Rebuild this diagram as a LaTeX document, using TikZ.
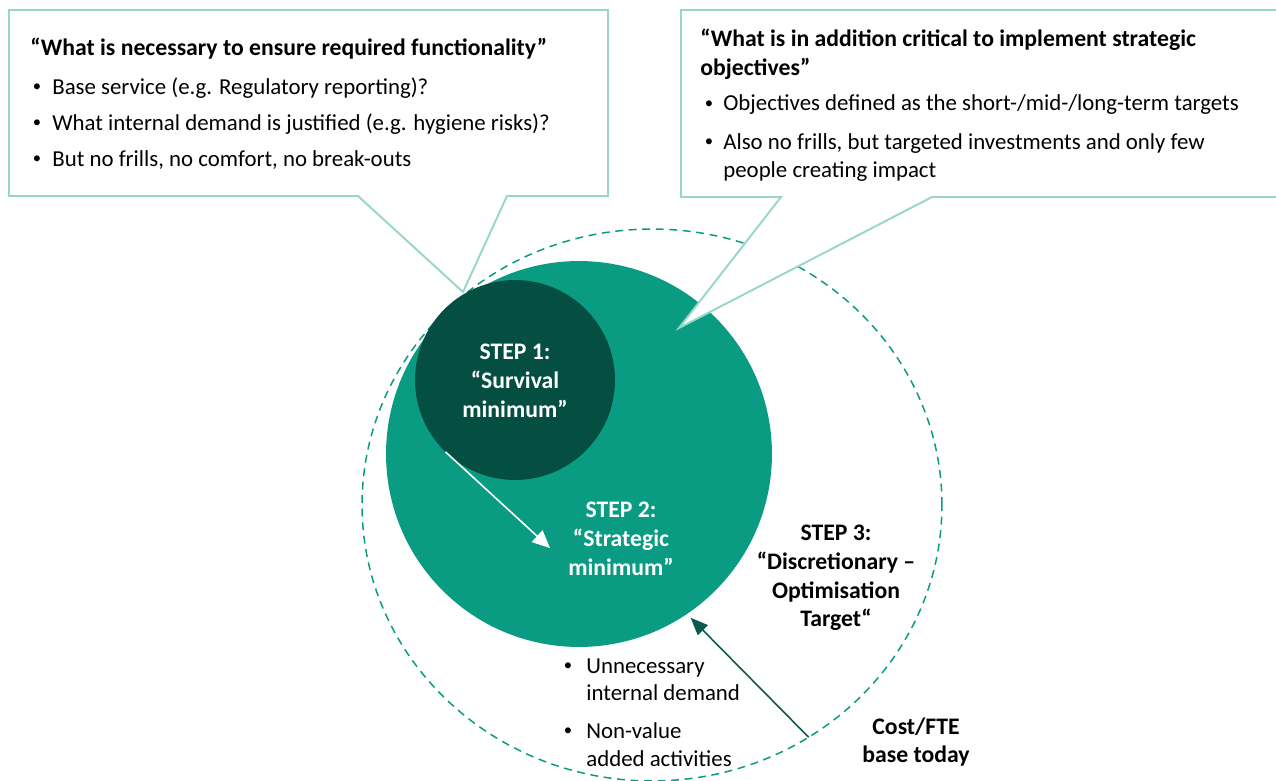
\documentclass[tikz,border=0pt]{standalone}
\usepackage{fontspec}
\setmainfont{Carlito}
\usetikzlibrary{arrows.meta,shapes.geometric}
\definecolor{stepteal}{HTML}{0A9C82}
\definecolor{stepdark}{HTML}{054F42}
\definecolor{boxline}{HTML}{98D6C6}
\definecolor{arrowdark}{HTML}{0B5A4B}
\begin{document}
\begin{tikzpicture}[x=0.02cm,y=-0.02cm,
	callout/.style={draw=boxline,fill=white,line width=1.1pt,line join=miter},
	boxtext/.style={anchor=base west,inner sep=0,font=\fontsize{13}{16}\selectfont},
	boxtitle/.style={boxtext,font=\fontsize{13.5}{16}\selectfont\bfseries},
	steptext/.style={align=center,inner sep=0,font=\fontsize{13.5}{16.4}\selectfont\bfseries},
	bul/.style={anchor=base,inner sep=0,font=\fontsize{9.5}{12}\selectfont}]
	\useasboundingbox (0,0) rectangle (1276,781);
	% circles
	\node[ellipse,draw=stepteal,line width=0.85pt,dash pattern=on 4.5pt off 3.2pt,minimum width=11.6cm,minimum height=11.04cm,inner sep=0,outer sep=0] (s3) at (652,505) {};
	\node[circle,fill=stepteal,minimum size=7.72cm,inner sep=0,outer sep=0] (s2) at (579,454) {};
	\node[circle,fill=stepdark,minimum size=4cm,inner sep=0,outer sep=0] (s1) at (515,380) {};
	% callouts
	\draw[callout] (9,10) -- (608,10) -- (608,196) -- (507,196) -- (463,292) -- (358,196) -- (9,196) -- cycle;
	\draw[callout] (681,10) -- (1285,10) -- (1285,197) -- (932,197) -- (679,328) -- (781,197) -- (681,197) -- cycle;
	% left box text
	\node[boxtitle] (lt) at (30,55) {“What is necessary to ensure required functionality”};
	\node[bul] at (37,93) {\raisebox{0.6pt}{•}};
	\node[boxtext] (l1) at (52,94) {Base service (e.g. Regulatory reporting)?};
	\node[bul] at (37,129) {\raisebox{0.6pt}{•}};
	\node[boxtext] (l2) at (52,130) {What internal demand is justified (e.g. hygiene risks)?};
	\node[bul] at (37,165) {\raisebox{0.6pt}{•}};
	\node[boxtext] (l3) at (52,166) {But no frills, no comfort, no break-outs};
	% right box text
	\node[boxtitle] (rt1) at (700,47) {“What is in addition critical to implement strategic};
	\node[boxtitle] (rt2) at (700,75) {objectives”};
	\node[bul] at (709,110) {\raisebox{0.6pt}{•}};
	\node[boxtext] (r1) at (723,111) {Objectives defined as the short-/mid-/long-term targets};
	\node[bul] at (709,148) {\raisebox{0.6pt}{•}};
	\node[boxtext] (r2) at (723,149) {Also no frills, but targeted investments and only few};
	\node[boxtext] (r3) at (723,177) {people creating impact};
	% step labels
	\node[steptext,text=white] (t1) at (515,381) {STEP 1:\\“Survival\\minimum”};
	\node[steptext,text=white] (t2) at (621,539) {STEP 2:\\“Strategic\\minimum”};
	\node[steptext] (t3) at (836,578) {STEP 3:\\“Discretionary –\\Optimisation\\Target“};
	\node[steptext] (cost) at (916,742) {Cost/FTE\\base today};
	% bottom bullets
	\node[bul] at (568,672) {\raisebox{0.6pt}{•}};
	\node[boxtext] (b1) at (586,673) {Unnecessary};
	\node[boxtext] (b2) at (586,700) {internal demand};
	\node[bul] at (568,737) {\raisebox{0.6pt}{•}};
	\node[boxtext] (b3) at (586,738) {Non-value};
	\node[boxtext] (b4) at (586,766) {added activities};
	% arrows
	\coordinate (a2) at (550,548);
	\draw[white,line width=0.9pt,-{Triangle[length=10pt,width=9pt]}] (s1.226) -- (a2);
	\draw[arrowdark,line width=0.9pt,-{Triangle[length=10pt,width=8pt]},shorten >=3pt] (s3.-56) -- (s2.-56);
\end{tikzpicture}
\end{document}
